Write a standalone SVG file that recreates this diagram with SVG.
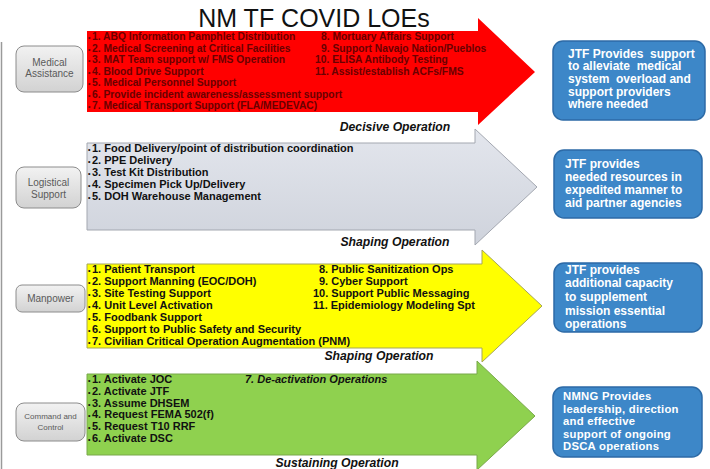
<svg xmlns="http://www.w3.org/2000/svg" width="710" height="469" viewBox="0 0 710 469">
<style>
text{font-family:"Liberation Sans",Arial,sans-serif}
.title{font-size:25px;fill:#111}
.lbl{font-size:10px;fill:#5a5a5a;text-anchor:middle}
.lbls{font-size:8px;fill:#5a5a5a;text-anchor:middle}
.red{font-size:10.3px;font-weight:bold;fill:#6a0000}
.blk{font-size:11px;font-weight:bold;fill:#111}
.op{font-size:12.2px;font-weight:bold;font-style:italic;fill:#111;text-anchor:middle}
.out{font-size:12px;font-weight:bold;fill:#fff;white-space:pre}
.out2{font-size:11.3px;font-weight:bold;fill:#fff;letter-spacing:0.25px}
.bul{font-size:7px}
.lbox{fill:url(#lg);stroke:#8c8c8c;stroke-width:1}
.obox{fill:#3d87c8;stroke:#2c6aa6;stroke-width:1.5}
</style>
<defs>
<linearGradient id="lg" x1="0" y1="0" x2="0" y2="1">
<stop offset="0" stop-color="#f2f2f2"/>
<stop offset="1" stop-color="#d2d2d2"/>
</linearGradient>
<linearGradient id="gg" x1="0" y1="0" x2="0" y2="1">
<stop offset="0" stop-color="#e3e6ed"/>
<stop offset="1" stop-color="#cfd3dc"/>
</linearGradient>
</defs>
<rect width="710" height="469" fill="#fff"/>
<line x1="1.5" y1="42" x2="1.5" y2="469" stroke="#9a9a9a" stroke-width="1.5"/>
<text class="title" x="314" y="27" text-anchor="middle">NM TF COVID LOEs</text>

<g id="connectors"></g>

<!-- left labels -->
<g id="label-medical">
<rect class="lbox" x="16" y="46" width="67" height="46" rx="8"/>
<text class="lbl" x="49.5" y="65.5">Medical</text>
<text class="lbl" x="49.5" y="76.5">Assistance</text>
</g>
<g id="label-logistical">
<rect class="lbox" x="16" y="167" width="65" height="41" rx="8"/>
<text class="lbl" x="48.5" y="185.5">Logistical</text>
<text class="lbl" x="48.5" y="197.5">Support</text>
</g>
<g id="label-manpower">
<rect class="lbox" x="16" y="285" width="69" height="27" rx="6"/>
<text class="lbl" x="50.5" y="301.5">Manpower</text>
</g>
<g id="label-c2">
<rect class="lbox" x="16" y="403" width="69" height="38" rx="8"/>
<text class="lbls" x="50.5" y="419">Command and</text>
<text class="lbls" x="50.5" y="429.5">Control</text>
</g>

<!-- Medical LOE arrow -->
<g id="loe-medical">
<polygon points="87,31 478,31 478,18 535,72 478,125 478,112 87,112" fill="#ff0000"/>
<text class="red" x="88" y="40"><tspan class="bul">•</tspan><tspan x="92">1. ABQ Information Pamphlet Distribution</tspan></text>
<text class="red" x="88" y="51.5"><tspan class="bul">•</tspan><tspan x="92">2. Medical Screening at Critical Facilities</tspan></text>
<text class="red" x="88" y="63"><tspan class="bul">•</tspan><tspan x="92">3. MAT Team support w/ FMS Operation</tspan></text>
<text class="red" x="88" y="74.5"><tspan class="bul">•</tspan><tspan x="92">4. Blood Drive Support</tspan></text>
<text class="red" x="88" y="86"><tspan class="bul">•</tspan><tspan x="92">5. Medical Personnel Support</tspan></text>
<text class="red" x="88" y="97.5"><tspan class="bul">•</tspan><tspan x="92">6. Provide incident awareness/assessment support</tspan></text>
<text class="red" x="88" y="109"><tspan class="bul">•</tspan><tspan x="92">7. Medical Transport Support (FLA/MEDEVAC)</tspan></text>
<text class="red" x="321" y="40">8. Mortuary Affairs Support</text>
<text class="red" x="321" y="51.5">9. Support Navajo Nation/Pueblos</text>
<text class="red" x="315" y="63">10. ELISA Antibody Testing</text>
<text class="red" x="315" y="74.5">11. Assist/establish ACFs/FMS</text>
<text class="op" x="395" y="131">Decisive Operation</text>
</g>

<!-- Logistical LOE arrow -->
<g id="loe-logistical">
<polygon points="87,143 475,143 475,129 537,187 475,245 475,230 87,230" fill="url(#gg)" stroke="#a3a7b0" stroke-width="1"/>
<text class="blk" x="88" y="151.5"><tspan class="bul">•</tspan><tspan x="92">1. Food Delivery/point of distribution coordination</tspan></text>
<text class="blk" x="88" y="163.5"><tspan class="bul">•</tspan><tspan x="92">2. PPE Delivery</tspan></text>
<text class="blk" x="88" y="175.5"><tspan class="bul">•</tspan><tspan x="92">3. Test Kit Distribution</tspan></text>
<text class="blk" x="88" y="187.5"><tspan class="bul">•</tspan><tspan x="92">4. Specimen Pick Up/Delivery</tspan></text>
<text class="blk" x="88" y="199.5"><tspan class="bul">•</tspan><tspan x="92">5. DOH Warehouse Management</tspan></text>
<text class="op" x="395" y="246">Shaping Operation</text>
</g>

<!-- Manpower LOE arrow -->
<g id="loe-manpower">
<polygon points="87,264 482,264 482,250 542,306 482,362 482,348 87,348" fill="#ffff00" stroke="#a5a55a" stroke-width="1"/>
<text class="blk" x="88" y="272.5"><tspan class="bul">•</tspan><tspan x="92">1. Patient Transport</tspan></text>
<text class="blk" x="88" y="284.6"><tspan class="bul">•</tspan><tspan x="92">2. Support Manning (EOC/DOH)</tspan></text>
<text class="blk" x="88" y="296.7"><tspan class="bul">•</tspan><tspan x="92">3. Site Testing Support</tspan></text>
<text class="blk" x="88" y="308.8"><tspan class="bul">•</tspan><tspan x="92">4. Unit Level Activation</tspan></text>
<text class="blk" x="88" y="320.9"><tspan class="bul">•</tspan><tspan x="92">5. Foodbank Support</tspan></text>
<text class="blk" x="88" y="333"><tspan class="bul">•</tspan><tspan x="92">6. Support to Public Safety and Security</tspan></text>
<text class="blk" x="88" y="345.1"><tspan class="bul">•</tspan><tspan x="92">7. Civilian Critical Operation Augmentation (PNM)</tspan></text>
<text class="blk" x="319" y="272.5">8. Public Sanitization Ops</text>
<text class="blk" x="319" y="284.6">9. Cyber Support</text>
<text class="blk" x="313" y="296.7">10. Support Public Messaging</text>
<text class="blk" x="313" y="308.8">11. Epidemiology Modeling Spt</text>
<text class="op" x="379" y="360">Shaping Operation</text>
</g>

<!-- C2 LOE arrow -->
<g id="loe-c2">
<polygon points="87,374 477,374 477,361 535,416 477,470 477,455 87,455" fill="#8fd14f" stroke="#79a84a" stroke-width="1"/>
<text class="blk" x="88" y="383"><tspan class="bul">•</tspan><tspan x="92">1. Activate JOC</tspan></text>
<text class="blk" x="88" y="394.8"><tspan class="bul">•</tspan><tspan x="92">2. Activate JTF</tspan></text>
<text class="blk" x="88" y="406.6"><tspan class="bul">•</tspan><tspan x="92">3. Assume DHSEM</tspan></text>
<text class="blk" x="88" y="418.4"><tspan class="bul">•</tspan><tspan x="92">4. Request FEMA 502(f)</tspan></text>
<text class="blk" x="88" y="430.2"><tspan class="bul">•</tspan><tspan x="92">5. Request T10 RRF</tspan></text>
<text class="blk" x="88" y="442"><tspan class="bul">•</tspan><tspan x="92">6. Activate DSC</tspan></text>
<text class="blk" x="245" y="383" font-style="italic" font-size="10.7">7. De-activation Operations</text>
<text class="op" x="337" y="467">Sustaining Operation</text>
</g>

<!-- outcome boxes -->
<g id="outcome-medical">
<rect class="obox" x="553" y="41" width="152" height="79" rx="10"/>
<text class="out" x="568" y="57.5">JTF Provides  support</text>
<text class="out" x="568" y="70.2">to alleviate  medical</text>
<text class="out" x="568" y="82.9">system  overload and</text>
<text class="out" x="568" y="95.6">support providers</text>
<text class="out" x="568" y="108.3">where needed</text>
</g>
<g id="outcome-logistical">
<rect class="obox" x="554" y="150" width="148" height="68" rx="10"/>
<text class="out" x="565" y="167.5">JTF provides</text>
<text class="out" x="565" y="180.8">needed resources in</text>
<text class="out" x="565" y="194.1">expedited manner to</text>
<text class="out" x="565" y="207.4">aid partner agencies</text>
</g>
<g id="outcome-manpower">
<rect class="obox" x="554" y="263" width="148" height="69" rx="10"/>
<text class="out" x="565" y="273.5">JTF provides</text>
<text class="out" x="565" y="287.2">additional capacity</text>
<text class="out" x="565" y="300.9">to supplement</text>
<text class="out" x="565" y="314.6">mission essential</text>
<text class="out" x="565" y="328.3">operations</text>
</g>
<g id="outcome-c2">
<rect class="obox" x="553" y="387" width="149" height="70" rx="10"/>
<text class="out2" x="563" y="400">NMNG Provides</text>
<text class="out2" x="563" y="412.6">leadership, direction</text>
<text class="out2" x="563" y="425.2">and effective</text>
<text class="out2" x="563" y="437.8">support of ongoing</text>
<text class="out2" x="563" y="450.4">DSCA operations</text>
</g>
</svg>
